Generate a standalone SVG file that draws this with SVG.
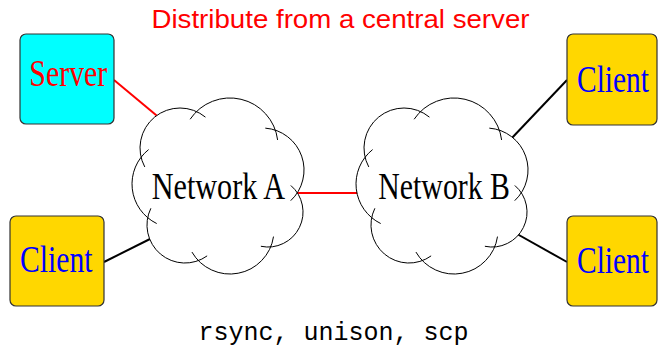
<svg xmlns="http://www.w3.org/2000/svg" xmlns:xlink="http://www.w3.org/1999/xlink" width="658" height="350" viewBox="0 0 658 350">
  <style>
    .box { stroke: #333333; stroke-width: 1.2; }
    .server { fill: #00FFFF; }
    .client { fill: #FFD700; }
    .lbl { font-family: "Liberation Serif", "Times New Roman", serif; font-size: 37px; text-anchor: start; }
    .red { fill: #FF0000; }
    .blue { fill: #0000FF; }
    .net { fill: #000000; }
    .cfill { fill: #FFFFFF; stroke: none; }
    .puff { fill: none; stroke: #000000; stroke-width: 1; }
    .conn-red { stroke: #FF0000; stroke-width: 2; }
    .conn-black { stroke: #000000; stroke-width: 2; }
  </style>
  <defs>
    <g id="cloud">
      <path class="cfill" d="M141.1,157.2 A40,40 0 0 1 196.6,111.6 A48,48 0 0 1 275.3,130.2 A42,42 0 0 1 297.3,192.8 A35,35 0 0 1 270.6,246.9 A44,44 0 0 1 198.4,260.6 A38,38 0 0 1 147.7,217.7 A44,44 0 0 1 141.1,157.2 Z"/>
      <path class="puff" d="M144.78,166.96 A40,40 0 0 1 205.44,117.14"/>
      <path class="puff" d="M190.14,119.26 A48,48 0 0 1 277.62,139.98"/>
      <path class="puff" d="M265.30,128.13 A42,42 0 0 1 290.71,200.66"/>
      <path class="puff" d="M290.84,185.48 A35,35 0 0 1 260.88,246.27"/>
      <path class="puff" d="M273.51,236.58 A44,44 0 0 1 191.93,252.05"/>
      <path class="puff" d="M207.14,255.89 A38,38 0 0 1 150.86,208.30"/>
      <path class="puff" d="M156.70,223.54 A44,44 0 0 1 148.61,149.57"/>
    </g>
  </defs>

  <text x="151.5" y="28" font-family="Liberation Sans, Arial, sans-serif" font-size="26" fill="#FF0000" textLength="378" lengthAdjust="spacingAndGlyphs">Distribute from a central server</text>

  <g id="connectors">
    <line class="conn-red" x1="114" y1="80" x2="162" y2="120"/>
    <line class="conn-black" x1="104" y1="262" x2="156" y2="236"/>
    <line class="conn-red" x1="296" y1="193" x2="358" y2="193"/>
    <line class="conn-black" x1="510" y1="140" x2="567" y2="80"/>
    <line class="conn-black" x1="510" y1="230" x2="567" y2="262"/>
  </g>

  <g id="server">
    <rect class="box server" x="20" y="34" width="94" height="90" rx="6" ry="6"/>
    <text class="lbl red" transform="translate(29.3,86) scale(0.805,1)" textLength="96.9" lengthAdjust="spacingAndGlyphs">Server</text>
  </g>

  <g id="client-left">
    <rect class="box client" x="10" y="216" width="94" height="90" rx="6" ry="6"/>
    <text class="lbl blue" transform="translate(20,272) scale(0.805,1)" textLength="90" lengthAdjust="spacingAndGlyphs">Client</text>
  </g>

  <g id="client-top-right">
    <rect class="box client" x="567" y="34" width="90" height="91" rx="6" ry="6"/>
    <text class="lbl blue" transform="translate(577,91.5) scale(0.805,1)" textLength="89.4" lengthAdjust="spacingAndGlyphs">Client</text>
  </g>

  <g id="client-bottom-right">
    <rect class="box client" x="567" y="216" width="90" height="90" rx="6" ry="6"/>
    <text class="lbl blue" transform="translate(577,272.5) scale(0.805,1)" textLength="89.4" lengthAdjust="spacingAndGlyphs">Client</text>
  </g>

  <g id="network-a">
    <use xlink:href="#cloud" href="#cloud"/>
    <text class="lbl net" transform="translate(151.7,199.3) scale(0.805,1)" textLength="165.6" lengthAdjust="spacingAndGlyphs">Network A</text>
  </g>

  <g id="network-b">
    <use xlink:href="#cloud" href="#cloud" transform="translate(224,0)"/>
    <text class="lbl net" transform="translate(378.3,198.5) scale(0.805,1)" textLength="163.6" lengthAdjust="spacingAndGlyphs">Network B</text>
  </g>

  <text x="198.5" y="340" font-family="Liberation Mono, Courier New, monospace" font-size="25" fill="#000000" textLength="270" lengthAdjust="spacingAndGlyphs">rsync, unison, scp</text>
</svg>
